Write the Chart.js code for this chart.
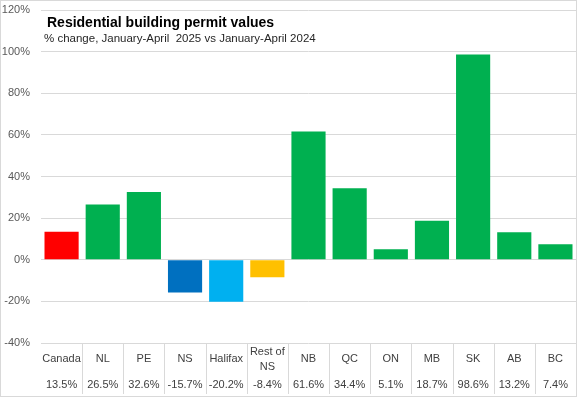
<!DOCTYPE html>
<html><head><meta charset="utf-8">
<script src="https://cdn.jsdelivr.net/npm/chart.js@4"></script>
<style>html,body{margin:0;padding:0;background:#fff}#wrap{width:577px;height:397px;position:relative}</style>
</head><body><div id="wrap"><canvas id="c" width="577" height="397"></canvas></div>
<script>
const categories = ["Canada","NL","PE","NS","Halifax","Rest of NS","NB","QC","ON","MB","SK","AB","BC"];
const categoryLines = [["Canada"],["NL"],["PE"],["NS"],["Halifax"],["Rest of","NS"],["NB"],["QC"],["ON"],["MB"],["SK"],["AB"],["BC"]];
const values = [13.5,26.5,32.6,-15.7,-20.2,-8.4,61.6,34.4,5.1,18.7,98.6,13.2,7.4];
const valueLabels = ["13.5%","26.5%","32.6%","-15.7%","-20.2%","-8.4%","61.6%","34.4%","5.1%","18.7%","98.6%","13.2%","7.4%"];
const barColors = ["#FF0000","#00B050","#00B050","#0070C0","#00B0F0","#FFC000","#00B050","#00B050","#00B050","#00B050","#00B050","#00B050","#00B050"];
const titleText = "Residential building permit values";
const subtitleText = "% change, January-April  2025 vs January-April 2024";
const yMin = -40, yMax = 120, yStep = 20;

const tablePlugin = {
  id: 'tablePlugin',
  afterDraw(chart) {
    const ctx = chart.ctx, xs = chart.scales.x, area = chart.chartArea;
    ctx.save();
    ctx.strokeStyle = '#d9d9d9'; ctx.lineWidth = 1;
    for (let i = 0; i < categories.length - 1; i++) {
      const x = Math.round((xs.getPixelForValue(i) + xs.getPixelForValue(i + 1)) / 2) + 0.5;
      ctx.beginPath(); ctx.moveTo(x, area.bottom); ctx.lineTo(x, 394); ctx.stroke();
    }
    ctx.fillStyle = '#404040';
    ctx.font = '11px "Liberation Sans", Arial, sans-serif';
    ctx.textAlign = 'center'; ctx.textBaseline = 'middle';
    categories.forEach((c, i) => {
      const x = xs.getPixelForValue(i);
      const lines = categoryLines[i];
      if (lines.length === 1) ctx.fillText(lines[0], x, area.bottom + 16);
      else { ctx.fillText(lines[0], x, area.bottom + 9); ctx.fillText(lines[1], x, area.bottom + 24); }
      ctx.fillText(valueLabels[i], x, area.bottom + 42);
    });
    ctx.textAlign = 'left'; ctx.textBaseline = 'alphabetic';
    ctx.fillStyle = '#000';
    ctx.font = 'bold 14px "Liberation Sans", Arial, sans-serif';
    ctx.fillText(titleText, 47, 27);
    ctx.fillStyle = '#262626';
    ctx.font = '11.5px "Liberation Sans", Arial, sans-serif';
    ctx.fillText(subtitleText, 44, 42);
    ctx.strokeStyle = '#d9d9d9';
    ctx.strokeRect(0.5, 0.5, chart.width - 1, chart.height - 1);
    ctx.restore();
  }
};

new Chart(document.getElementById('c'), {
  type: 'bar',
  data: { labels: categories, datasets: [{ data: values, backgroundColor: barColors, borderWidth: 0, categoryPercentage: 1, barPercentage: 0.83 }] },
  options: {
    responsive: false, animation: false,
    layout: { padding: { top: 10, right: 1, bottom: 54, left: 0 } },
    plugins: { legend: { display: false }, tooltip: { enabled: false }, title: { display: false } },
    scales: {
      x: { display: false, offset: true },
      y: {
        min: yMin, max: yMax,
        afterFit: s => { s.width = 41; s.paddingTop = 0; s.paddingBottom = 0; },
        ticks: { stepSize: yStep, color: '#595959', padding: 11, font: { size: 11, family: '"Liberation Sans", Arial, sans-serif' }, callback: v => v + '%' },
        grid: { color: '#d9d9d9', drawTicks: false },
        border: { display: false }
      }
    }
  },
  plugins: [tablePlugin]
});
</script></body></html>
